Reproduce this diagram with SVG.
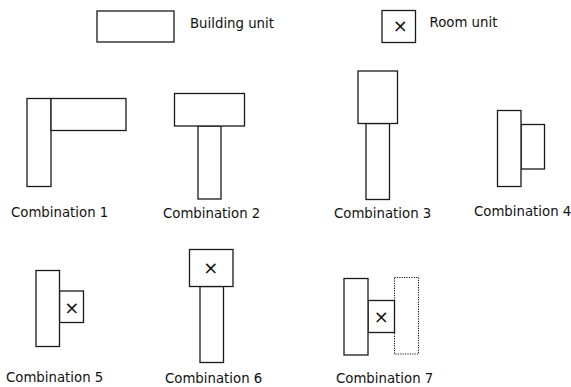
<svg xmlns="http://www.w3.org/2000/svg" width="571" height="387" viewBox="0 0 571 387">
<style>
.u{fill:#fff;stroke:#1a1a1a;stroke-width:1.3}
.d{fill:none;stroke:#1a1a1a;stroke-width:1.1;stroke-dasharray:1.2 1.2}
.t{font-family:"DejaVu Sans",sans-serif;font-size:13.3px;fill:#111}
.x{font-family:"DejaVu Sans",sans-serif;font-size:18px;fill:#111;text-anchor:middle}
</style>
<rect width="571" height="387" fill="#fff"/>
<g id="legend-building">
<rect class="u" x="97" y="11" width="77" height="31"/>
<text class="t" x="190" y="28">Building unit</text>
</g>
<g id="legend-room">
<rect class="u" x="382" y="10.5" width="33.5" height="32"/>
<text class="x" x="400.3" y="32">×</text>
<text class="t" x="429.5" y="27">Room unit</text>
</g>
<g id="combination-1">
<rect class="u" x="27" y="98.5" width="24" height="88"/>
<rect class="u" x="51" y="98.5" width="75" height="32"/>
<text class="t" x="11" y="217">Combination 1</text>
</g>
<g id="combination-2">
<rect class="u" x="198" y="126" width="23" height="73"/>
<rect class="u" x="174.5" y="93.5" width="70" height="32.5"/>
<text class="t" x="163" y="218">Combination 2</text>
</g>
<g id="combination-3">
<rect class="u" x="366" y="123.5" width="23.5" height="76"/>
<rect class="u" x="358" y="71" width="39.5" height="52.5"/>
<text class="t" x="334" y="218">Combination 3</text>
</g>
<g id="combination-4">
<rect class="u" x="521" y="124.5" width="23.5" height="44.5"/>
<rect class="u" x="497.5" y="110.5" width="23.5" height="76"/>
<text class="t" x="474" y="216">Combination 4</text>
</g>
<g id="combination-5">
<rect class="u" x="59.5" y="291" width="24" height="31.5"/>
<rect class="u" x="36" y="270.5" width="23.5" height="76"/>
<text class="x" x="71.7" y="314">×</text>
<text class="t" x="6" y="382">Combination 5</text>
</g>
<g id="combination-6">
<rect class="u" x="200" y="286.5" width="23.5" height="76"/>
<rect class="u" x="189.5" y="249.5" width="43.5" height="37"/>
<text class="x" x="210.7" y="274">×</text>
<text class="t" x="165" y="383">Combination 6</text>
</g>
<g id="combination-7">
<rect class="d" x="394.5" y="277.5" width="24" height="76.5"/>
<rect class="u" x="368" y="300.5" width="26.5" height="32"/>
<rect class="u" x="344" y="278.5" width="24" height="76.5"/>
<text class="x" x="381.2" y="322.7">×</text>
<text class="t" x="336" y="383">Combination 7</text>
</g>
</svg>
